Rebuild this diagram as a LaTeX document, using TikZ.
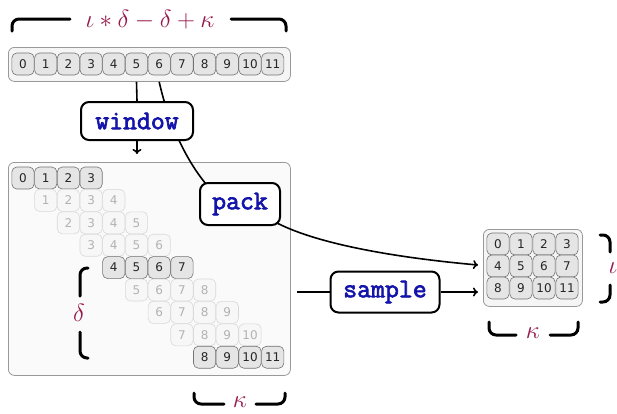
\documentclass[tikz,border=0pt]{standalone}
\usepackage{fontspec}
\newfontfamily\cellfont{DejaVu Sans}
\newfontfamily\opfont[FakeBold=2.5]{Latin Modern Mono}
\usetikzlibrary{arrows.meta,calc}
\definecolor{mathpurple}{RGB}{150,25,75}
\definecolor{opblue}{RGB}{20,20,170}
\tikzset{
  cellbox/.style={draw=black!55,fill=black!10,rounded corners=5pt,minimum width=22.3pt,minimum height=22pt,inner sep=0pt,font=\cellfont\fontsize{12}{13}\selectfont,text=black!85,line width=0.6pt},
  fadedcell/.style={cellbox,draw=black!15,fill=black!3,text=black!30},
  tray/.style={draw=black!40,fill=black!4,rounded corners=6pt,line width=0.8pt},
  bigtray/.style={draw=black!40,fill=black!2,rounded corners=6pt,line width=0.8pt},
  opbox/.style={draw=black,fill=white,rounded corners=8pt,line width=2pt,inner sep=0pt,text=opblue,font=\opfont\bfseries\fontsize{27}{29}\selectfont},
  link/.style={line width=1.6pt,black},
  brk/.style={line width=3pt,rounded corners=7pt,line cap=round},
  mathlbl/.style={text=mathpurple,font=\fontsize{27}{30}\selectfont,inner sep=0pt},
}
\begin{document}
\begin{tikzpicture}[x=1pt,y=-1pt]
\useasboundingbox (0,0) rectangle (617,413);

% input sequence
\node[tray,minimum width=282pt,minimum height=34pt,anchor=north west] (top) at (8,47) {};
\foreach \i in {0,...,11} {
  \node[cellbox] (t\i) at ({23+22.7*\i},64) {\i};
}

% stack of windows
\node[bigtray,minimum width=282pt,minimum height=213pt,anchor=north west] (big) at (8,162) {};
\foreach \r in {0,...,8} {
  \foreach \c in {0,...,3} {
    \pgfmathtruncatemacro{\v}{\r+\c}
    \pgfmathtruncatemacro{\m}{mod(\r,4)}
    \ifnum\m=0
      \node[cellbox] (w\r-\c) at ({23+22.7*(\r+\c)},{178+22.4*\r}) {\v};
    \else
      \node[fadedcell] (w\r-\c) at ({23+22.7*(\r+\c)},{178+22.4*\r}) {\v};
    \fi
  }
}

% sampled batch
\node[tray,minimum width=99pt,minimum height=77pt,anchor=north west] (res) at (483,229) {};
\foreach \r in {0,...,2} {
  \foreach \c in {0,...,3} {
    \pgfmathtruncatemacro{\v}{4*\r+\c}
    \node[cellbox] (s\v) at ({498+23*\c},{244+22*\r}) {\v};
  }
}

% curve from the sequence to pack, running behind the window box
\coordinate (packin) at (206,184);
\draw[link] (t6 |- top.south) .. controls (168,122) and (186,160) .. (packin);

% operation boxes
\node[opbox,minimum width=112pt,minimum height=38pt] (window) at (137,121) {window};
\node[opbox,minimum width=80pt,minimum height=42pt] (pack) at (240,204) {pack};
\node[opbox,minimum width=109pt,minimum height=41pt] (sample) at (385,292) {sample};

% connectors
\draw[link] (t5 |- top.south) -- (window.north);
\draw[link,-{To[length=5pt,width=9pt]}] (window.south) -- ($(window.south |- big.north)+(0,-8)$);
\coordinate (packout) at (277,223);
\draw[link,-{To[length=5pt,width=9pt]}] (packout) .. controls (320,245) and (400,258) .. ($(res.west |- s4)+(-5,-1)$);
\draw[link] ($(big.east |- sample)+(6,0)$) -- (sample.west);
\draw[link,-{To[length=5pt,width=9pt]}] (sample.east) -- ($(res.west |- sample)+(-5,0)$);

% brackets with labels
\node[mathlbl] (lblall) at (150,20) {$\iota * \delta - \delta + \kappa$};
\draw[brk] (12,31) |- (70,19);
\draw[brk] (231,19) -| (286,31);

\node[mathlbl] (lbld) at (79,313) {$\delta$};
\draw[brk] (88,268) -| (80,296);
\draw[brk] (80,332) |- (88,358);

\node[mathlbl] (lblk1) at (240,402) {$\kappa$};
\draw[brk] (194,393) |- (224,404);
\draw[brk] (256,404) -| (285,393);

\node[mathlbl] (lbli) at (613,268) {$\iota$};
\draw[brk] (600,235) -| (610,252);
\draw[brk] (610,285) |- (600,302);

\node[mathlbl] (lblk2) at (533,333) {$\kappa$};
\draw[brk] (489,322) |- (516,335);
\draw[brk] (550,335) -| (578,322);
\end{tikzpicture}
\end{document}
